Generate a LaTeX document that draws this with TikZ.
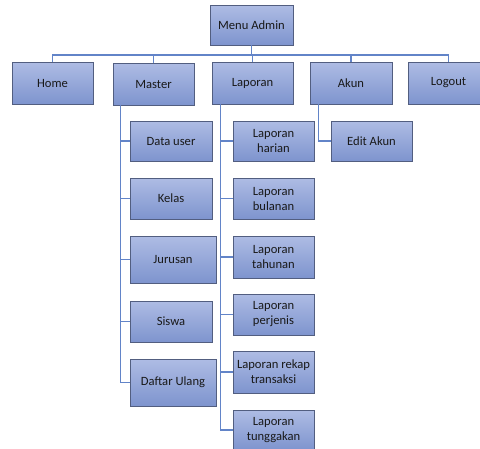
\documentclass[tikz,border=0pt]{standalone}
\usepackage{fontspec}
\setmainfont{Carlito}
\definecolor{boxtop}{RGB}{174,188,228}
\definecolor{boxbot}{RGB}{126,148,206}
\definecolor{boxline}{RGB}{82,94,128}
\definecolor{conn}{RGB}{98,132,200}
\definecolor{txt}{RGB}{25,25,25}
\begin{document}
\begin{tikzpicture}[x=1pt,y=-1pt,
  menubox/.style={draw=boxline, line width=0.9pt, top color=boxtop, bottom color=boxbot,
    shading angle=0, inner sep=1pt, align=center, text=txt,
    font=\fontsize{12.6}{15}\selectfont},
  conline/.style={draw=conn, line width=1.3pt}]
\useasboundingbox (0,0) rectangle (480,448);
% top
\node[menubox, minimum width=83pt, minimum height=40pt] (admin) at (251.5,25) {Menu Admin};
\node[menubox, minimum width=81pt, minimum height=42pt] (home) at (52.5,83) {Home};
\node[menubox, minimum width=81pt, minimum height=42pt] (master) at (153.5,84) {Master};
\node[menubox, minimum width=81pt, minimum height=42pt] (laporan) at (252.5,83) {Laporan};
\node[menubox, minimum width=82pt, minimum height=42pt] (akun) at (351,83) {Akun};
\node[menubox, minimum width=81pt, minimum height=42pt] (logout) at (448.5,83) {Logout};
% master children
\node[menubox, minimum width=82pt, minimum height=40pt] (datauser) at (171,141) {Data user};
\node[menubox, minimum width=82pt, minimum height=41pt] (kelas) at (171,198.5) {Kelas};
\node[menubox, minimum width=86pt, minimum height=47pt] (jurusan) at (173,259.5) {Jurusan};
\node[menubox, minimum width=82pt, minimum height=41pt] (siswa) at (171,321.5) {Siswa};
\node[menubox, minimum width=86pt, minimum height=47pt] (daftar) at (173,382.5) {Daftar Ulang};
% laporan children
\node[menubox, minimum width=81pt, minimum height=40pt] (harian) at (273.5,141) {Laporan\\harian};
\node[menubox, minimum width=81pt, minimum height=41pt] (bulanan) at (273.5,198.5) {Laporan\\bulanan};
\node[menubox, minimum width=81pt, minimum height=42pt] (tahunan) at (273.5,257) {Laporan\\tahunan};
\node[menubox, minimum width=81pt, minimum height=41pt] (perjenis) at (273.5,314.5) {Laporan\\perjenis};
\node[menubox, minimum width=81pt, minimum height=42pt] (rekap) at (273.5,372) {Laporan rekap\\transaksi};
\node[menubox, minimum width=81pt, minimum height=40pt] (tunggakan) at (273.5,430) {Laporan\\tunggakan};
% akun child
\node[menubox, minimum width=81pt, minimum height=40pt] (editakun) at (371.5,141) {Edit Akun};
% connectors
\coordinate (bus) at (251.5,55);
\foreach \n in {home,master,laporan,akun,logout}
  \draw[conline] (admin.south) -- (bus) -| (\n.north);
\foreach \n in {datauser,kelas,jurusan,siswa,daftar}
  \draw[conline] ([xshift=8pt]master.south west) |- (\n.west);
\foreach \n in {harian,bulanan,tahunan,perjenis,rekap,tunggakan}
  \draw[conline] ([xshift=9pt]laporan.south west) |- (\n.west);
\draw[conline] ([xshift=9pt]akun.south west) |- (editakun.west);
\end{tikzpicture}
\end{document}
